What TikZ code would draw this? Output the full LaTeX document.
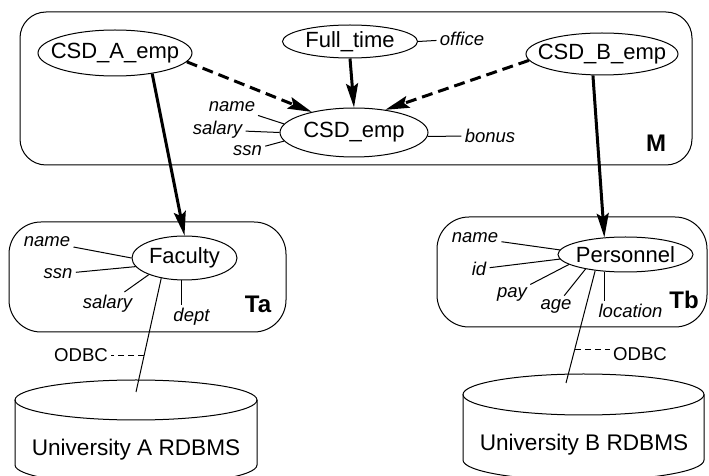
\documentclass[tikz,border=0pt]{standalone}
\usepackage{fontspec}
\setmainfont{Liberation Sans}
\usetikzlibrary{shapes.geometric,arrows.meta}

\begin{document}
\begin{tikzpicture}[x=0.5pt,y=-0.5pt,
  font=\fontsize{11}{13}\selectfont,
  ent/.style={draw,ellipse,inner sep=0pt,line width=0.5pt},
  attr/.style={font=\fontsize{9.25}{11}\selectfont\itshape,inner sep=1.5pt},
  tag/.style={font=\fontsize{12}{14}\selectfont\bfseries},
  odbc/.style={font=\fontsize{9.3}{11}\selectfont,inner sep=1.5pt},
  dbtext/.style={font=\fontsize{11.3}{13}\selectfont},
  box/.style={line width=0.5pt,rounded corners=13pt},
  attrline/.style={line width=0.5pt},
  maparr/.style={line width=1.5pt,-{Stealth[length=12pt,width=6pt,inset=2pt]}},
  viewarr/.style={maparr,dash pattern=on 5.5pt off 3pt}]
\useasboundingbox (0,0) rectangle (709,476);

% schemas
\draw[box] (20,12) rectangle (692,165);
\draw[box,rounded corners=16pt] (9,222) rectangle (286,332);
\draw[box,rounded corners=16pt] (437,217) rectangle (707,327);
\node[tag] (mtag) at (656,143) {M};
\node[tag] (tatag) at (258,304) {Ta};
\node[tag] (tbtag) at (684,300) {Tb};

% classes
\node[ent,minimum width=77pt,minimum height=23pt,label=center:CSD\_A\_emp] (ca) at (115,53) {};
\node[ent,minimum width=67.5pt,minimum height=16.5pt,label=center:Full\_time] (ft) at (350,41.5) {};
\node[ent,minimum width=76pt,minimum height=21pt,label=center:CSD\_B\_emp] (cb) at (602,54) {};
\node[ent,minimum width=74pt,minimum height=24.5pt,label=center:CSD\_emp] (cemp) at (354,132.5) {};
\node[ent,minimum width=52.5pt,minimum height=22pt,label=center:Faculty] (fac) at (184.5,258) {};
\node[ent,minimum width=67.5pt,minimum height=17.5pt,label=center:Personnel] (pers) at (625.5,254.5) {};

% attributes of M
\node[attr] (mname) at (232,107) {name};
\node[attr] (msalary) at (217.5,130) {salary};
\node[attr] (mssn) at (247.5,151) {ssn};
\node[attr] (mbonus) at (490,136) {bonus};
\node[attr] (moffice) at (462,39) {office};
\draw[attrline] (mname) -- (cemp.173);
\draw[attrline] (msalary) -- (cemp.180);
\draw[attrline] (mssn) -- (cemp.187);
\draw[attrline] (mbonus) -- (cemp.357);
\draw[attrline] (moffice) -- (ft.east);

% attributes of Ta
\node[attr] (aname) at (47,242) {name};
\node[attr] (assn) at (58,274) {ssn};
\node[attr] (asalary) at (107.5,304) {salary};
\node[attr] (adept) at (191.5,317) {dept};
\draw[attrline] (aname) -- (fac.180);
\draw[attrline] (assn) -- (fac.190);
\draw[attrline] (asalary) -- (fac.205);
\draw[attrline] (fac.262) -- (fac.262 |- adept.north);

% attributes of Tb
\node[attr] (bname) at (475,238) {name};
\node[attr] (bid) at (479,269) {id};
\node[attr] (bpay) at (512,294) {pay};
\node[attr] (bage) at (556,306) {age};
\node[attr] (bloc) at (630.5,311) {location};
\draw[attrline] (bname) -- (pers.176);
\draw[attrline] (bid) -- (pers.184);
\draw[attrline] (bpay) -- (pers.190);
\draw[attrline] (bage) -- (pers.200);
\draw[attrline] (pers.219) -- (pers.219 |- bloc.north);

% mappings
\draw[viewarr] (ca.353) -- (cemp.154);
\draw[viewarr] (cb.185) -- (cemp.36);
\draw[maparr] (ft.south) -- (cemp.north);
\draw[maparr] (ca.331) -- (fac.north);
\draw[maparr] (cb.247) -- (pers.141);

% databases
\draw[attrline] (136,400) ellipse[x radius=121,y radius=20];
\draw[attrline] (15,400) -- (15,465) arc[start angle=180,end angle=0,x radius=121,y radius=20] -- (257,400);
\node[dbtext] (dba) at (136,450) {University A RDBMS};
\coordinate (dbatop) at (136,392);
\draw[attrline] (583.5,394.5) ellipse[x radius=120.5,y radius=20.5];
\draw[attrline] (463,394.5) -- (463,460) arc[start angle=180,end angle=0,x radius=120.5,y radius=20.5] -- (704,394.5);
\node[dbtext] (dbb) at (584,445) {University B RDBMS};
\coordinate (dbbtop) at (566,383);

% ODBC links
\node[odbc] (odbca) at (81,355) {ODBC};
\node[odbc] (odbcb) at (640,354) {ODBC};
\draw[attrline] (fac.221) -- coordinate[pos=0.68] (ja) (dbatop);
\draw[attrline] (pers.208) -- coordinate[pos=0.7] (jb) (dbbtop);
\draw[attrline,dash pattern=on 3pt off 2pt] (ja) -- (ja -| odbca.east);
\draw[attrline,dash pattern=on 3pt off 2pt] (jb) -- (jb -| odbcb.west);
\end{tikzpicture}
\end{document}
